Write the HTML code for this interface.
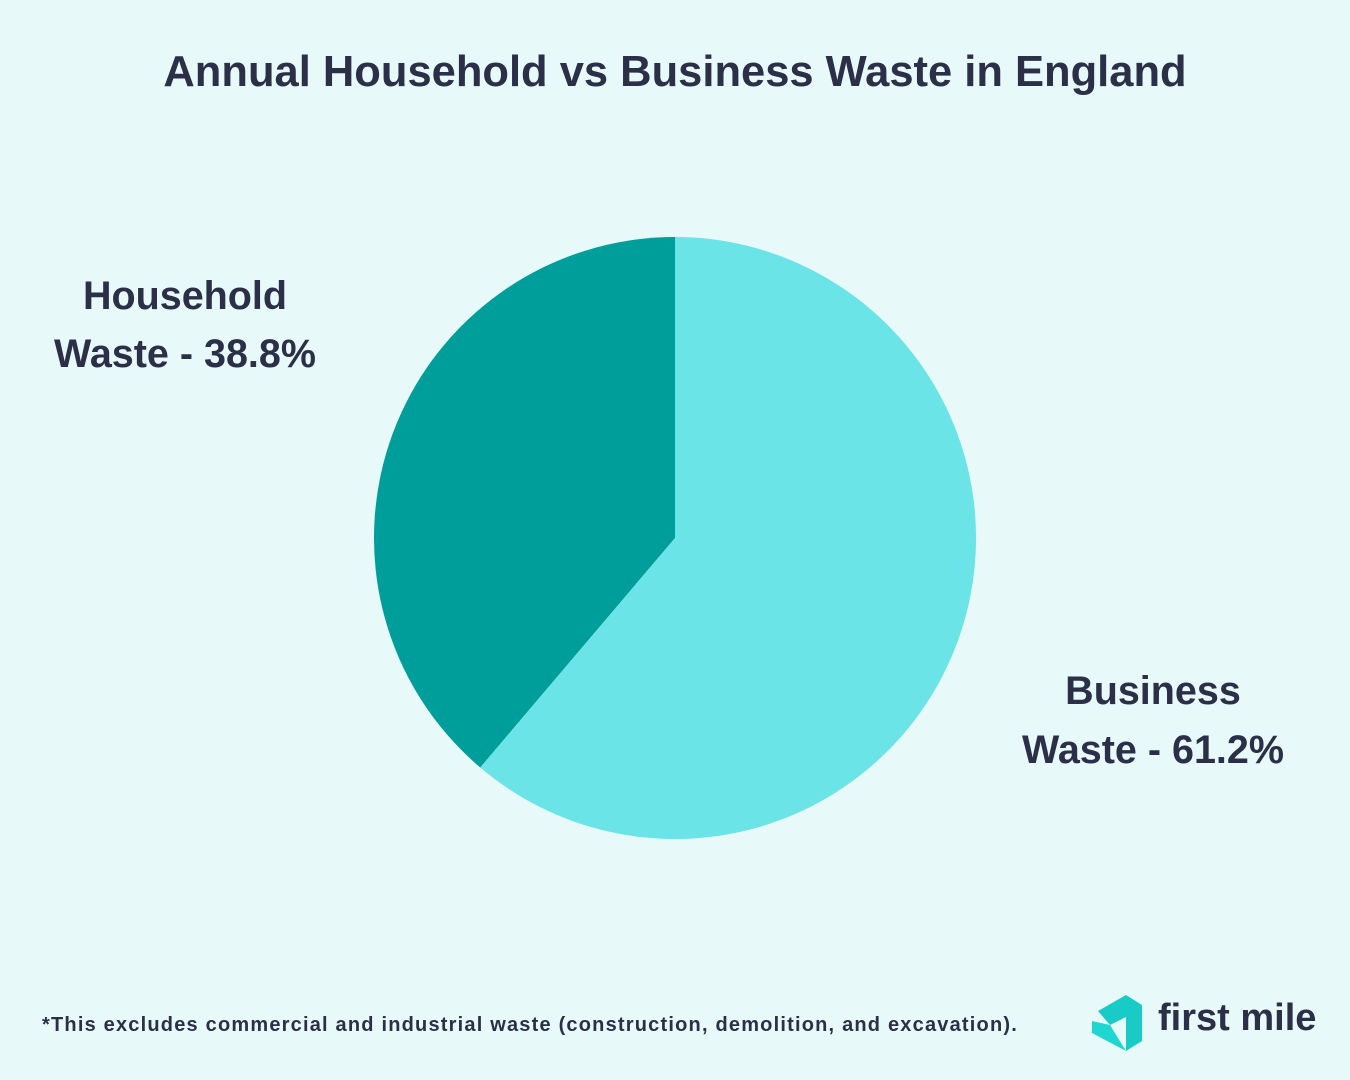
<!DOCTYPE html>
<html><head><meta charset="utf-8"><style>
html,body{margin:0;padding:0}
body{width:1350px;height:1080px;background:#e8f9f9;position:relative;overflow:hidden;font-family:"Liberation Sans",sans-serif;color:#2b2f48}
.t{position:absolute;font-weight:bold}
</style></head><body>
<div class="t" style="left:0;width:1350px;top:48px;text-align:center;font-size:43.5px">Annual Household vs Business Waste in England</div>
<svg id="pie" width="1350" height="1080" style="position:absolute;left:0;top:0"></svg>
<div class="t" style="left:30px;width:310px;top:267px;text-align:center;font-size:39.5px;line-height:58px">Household<br>Waste - 38.8%</div>
<div class="t" style="left:998px;width:310px;top:662px;text-align:center;font-size:39.5px;line-height:59px">Business<br>Waste - 61.2%</div>
<div class="t" style="left:42px;top:1014px;font-size:20px;letter-spacing:1.2px;white-space:nowrap">*This excludes commercial and industrial waste (construction, demolition, and excavation).</div>
<div style="position:absolute;left:1090px;top:993px">
<svg width="56" height="60" viewBox="0 0 56 60"><path d="M8 18 L36 2 L52 12 L52 48 L36 58 L36 24 L20 32 Z" fill="#18cbc6"/><path d="M2 28 L20 32 L36 58 L2 40 Z" fill="#1fd6d0"/></svg>
<span class="t" style="left:68px;top:4px;font-size:38px;white-space:nowrap">first mile</span>
</div>
<script>
const categories=["Household Waste","Business Waste"];
const values=[38.8,61.2];
const colors=["#009e9b","#6ae4e6"];
const svg=document.getElementById('pie');
const cx=675,cy=538,r=301;
const total=values.reduce((a,b)=>a+b,0);
let start=0;
function pt(f){const a=f*2*Math.PI;return [cx-r*Math.sin(a),cy-r*Math.cos(a)];}
values.forEach((v,i)=>{
  const f=v/total;
  const [x1,y1]=pt(start),[x2,y2]=pt(start+f);
  const large=f>0.5?1:0;
  const p=document.createElementNS('http://www.w3.org/2000/svg','path');
  p.setAttribute('d',`M${cx},${cy} L${x1},${y1} A${r},${r} 0 ${large} 0 ${x2},${y2} Z`);
  p.setAttribute('fill',colors[i]);
  
  
  svg.appendChild(p);
  start+=f;
});
</script>
</body></html>
